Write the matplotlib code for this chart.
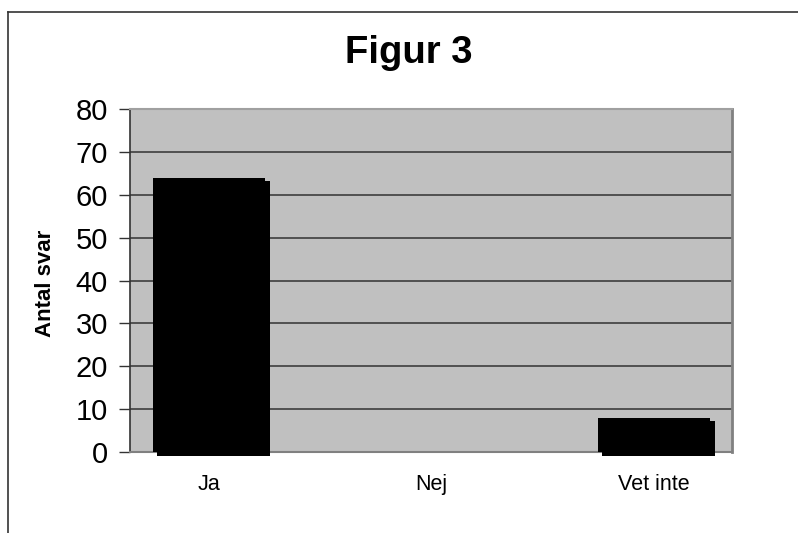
import numpy as np
import matplotlib
matplotlib.use('Agg')
import matplotlib.pyplot as plt
import matplotlib.transforms as mtransforms
from matplotlib.lines import Line2D

plt.rcParams['font.family'] = ['Liberation Sans', 'DejaVu Sans']

# data
categories = ['Ja', 'Nej', 'Vet inte']
answers = [64, 0, 8]
yticks = [0, 10, 20, 30, 40, 50, 60, 70, 80]

W, H = 798, 533
fig = plt.figure(figsize=(W/100, H/100), dpi=100)
ax = fig.add_axes([130/W, 1-452/H, (732-130)/W, (452-109)/H])
ax.set_facecolor('#c0c0c0')

x = np.arange(len(categories))
# shadow, shifted a few pixels right and down like the old excel look
shadow = mtransforms.offset_copy(ax.transData, fig=fig, x=4.5, y=-3.5, units='dots')
ax.bar(x, answers, width=0.505, color='black', transform=shadow, clip_on=False, zorder=3)
ax.bar(x, answers, width=0.505, color='black', zorder=4)

ax.set_xlim(-0.355, 2.35)
ax.set_ylim(0, 80)
ax.set_yticks(yticks)
ax.set_xticks(x)
ax.set_xticklabels(categories, fontsize=15.5)
ax.tick_params(axis='x', length=0, pad=16)
ax.tick_params(axis='y', length=8, width=1, color='#333333', labelsize=21, pad=8)

for v in yticks[1:-1]:
    ax.axhline(v, color='#333333', lw=1.1, zorder=1)

ax.spines['left'].set_color('#333333')
ax.spines['left'].set_linewidth(1.2)
ax.spines['bottom'].set_color('#808080')
ax.spines['bottom'].set_linewidth(1.5)
ax.spines['right'].set_color('#808080')
ax.spines['right'].set_linewidth(2)
ax.spines['top'].set_color('#a0a0a0')
ax.spines['top'].set_linewidth(1.5)

ax.set_ylabel('Antal svar', fontsize=16, fontweight='bold')
ax.yaxis.set_label_coords(56/W, 1-283/H, transform=fig.transFigure)

fig.text(409/W, 1-53/H, 'Figur 3', fontsize=27.5, fontweight='bold', ha='center', va='center')

# outer chart frame (only left and top edges are visible)
fig.add_artist(Line2D([8/W, 8/W], [0, 1-12/H], color='#333333', lw=1.2))
fig.add_artist(Line2D([8/W, 1], [1-12/H, 1-12/H], color='#333333', lw=1.2))

fig.savefig('out.png', dpi=100)
